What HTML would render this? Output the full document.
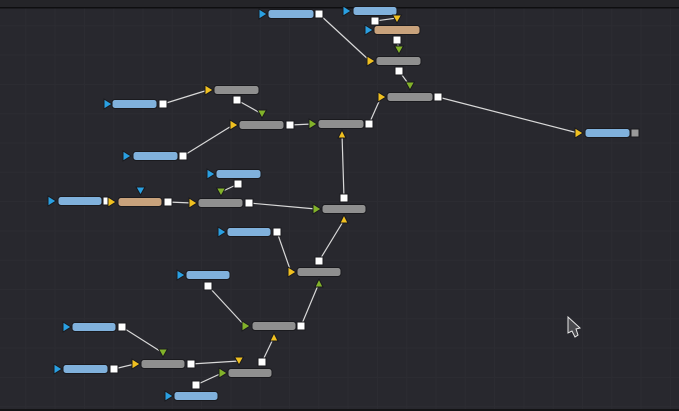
<!DOCTYPE html>
<html><head><meta charset="utf-8"><style>
html,body{margin:0;padding:0;background:#28282e;}
svg{display:block}
</style></head><body>
<svg width="679" height="411" viewBox="0 0 679 411" xmlns="http://www.w3.org/2000/svg">
<defs>
<pattern id="g" x="-4" y="-4" width="29.3" height="29.3" patternUnits="userSpaceOnUse">
<rect width="29.3" height="29.3" fill="#28282e"/>
<rect x="0" y="0" width="1" height="29.3" fill="#2c2c32"/>
<rect x="0" y="0" width="29.3" height="1" fill="#2c2c32"/>
</pattern>
</defs>
<rect width="679" height="411" fill="url(#g)"/>
<rect width="679" height="7" fill="#242428"/>
<rect y="7" width="679" height="1.5" fill="#0e0e10"/>
<rect y="409" width="679" height="2" fill="#141416"/>

<g stroke="#d8d8d8" stroke-width="1.2" fill="none">
<line x1="319" y1="14" x2="370" y2="61"/>
<line x1="375" y1="21" x2="397" y2="18"/>
<line x1="397" y1="40" x2="399" y2="50"/>
<line x1="399" y1="71" x2="410" y2="86"/>
<line x1="438" y1="97" x2="578" y2="133"/>
<line x1="163" y1="104" x2="208" y2="90"/>
<line x1="237" y1="100" x2="262" y2="114"/>
<line x1="290" y1="125" x2="312" y2="124"/>
<line x1="369" y1="124" x2="381" y2="97"/>
<line x1="183" y1="156" x2="233" y2="125"/>
<line x1="238" y1="184" x2="221" y2="192"/>
<line x1="168" y1="202" x2="192" y2="203"/>
<line x1="107" y1="201" x2="111" y2="202"/>
<line x1="249" y1="203" x2="316" y2="209"/>
<line x1="344" y1="198" x2="342" y2="134"/>
<line x1="277" y1="232" x2="291" y2="272"/>
<line x1="319" y1="261" x2="344" y2="220"/>
<line x1="208" y1="286" x2="245" y2="326"/>
<line x1="301" y1="326" x2="319" y2="283"/>
<line x1="122" y1="327" x2="163" y2="353"/>
<line x1="191" y1="364" x2="239" y2="361"/>
<line x1="262" y1="362" x2="274" y2="337"/>
<line x1="196" y1="385" x2="222" y2="373"/>
<line x1="114" y1="369" x2="135" y2="364"/>
</g>

<g stroke="#1a1a1e" stroke-width="1">
<rect x="268" y="9.5" width="46" height="9" rx="3" fill="#80b1dc"/>
<rect x="353" y="6.5" width="44" height="9" rx="3" fill="#80b1dc"/>
<rect x="374" y="25.5" width="46" height="9" rx="3" fill="#c8a27c"/>
<rect x="376" y="56.5" width="45" height="9" rx="3" fill="#8f8f8f"/>
<rect x="387" y="92.5" width="46" height="9" rx="3" fill="#8f8f8f"/>
<rect x="585" y="128.5" width="45" height="9" rx="3" fill="#80b1dc"/>
<rect x="214" y="85.5" width="45" height="9" rx="3" fill="#8f8f8f"/>
<rect x="112" y="99.5" width="45" height="9" rx="3" fill="#80b1dc"/>
<rect x="239" y="120.5" width="45" height="9" rx="3" fill="#8f8f8f"/>
<rect x="318" y="119.5" width="46" height="9" rx="3" fill="#8f8f8f"/>
<rect x="133" y="151.5" width="45" height="9" rx="3" fill="#80b1dc"/>
<rect x="216" y="169.5" width="45" height="9" rx="3" fill="#80b1dc"/>
<rect x="198" y="198.5" width="45" height="9" rx="3" fill="#8f8f8f"/>
<rect x="118" y="197.5" width="44" height="9" rx="3" fill="#c8a27c"/>
<rect x="58" y="196.5" width="44" height="9" rx="3" fill="#80b1dc"/>
<rect x="322" y="204.5" width="44" height="9" rx="3" fill="#8f8f8f"/>
<rect x="227" y="227.5" width="44" height="9" rx="3" fill="#80b1dc"/>
<rect x="297" y="267.5" width="44" height="9" rx="3" fill="#8f8f8f"/>
<rect x="186" y="270.5" width="44" height="9" rx="3" fill="#80b1dc"/>
<rect x="252" y="321.5" width="44" height="9" rx="3" fill="#8f8f8f"/>
<rect x="72" y="322.5" width="44" height="9" rx="3" fill="#80b1dc"/>
<rect x="141" y="359.5" width="44" height="9" rx="3" fill="#8f8f8f"/>
<rect x="228" y="368.5" width="44" height="9" rx="3" fill="#8f8f8f"/>
<rect x="63" y="364.5" width="45" height="9" rx="3" fill="#80b1dc"/>
<rect x="174" y="391.5" width="44" height="9" rx="3" fill="#80b1dc"/>

<g fill="#ffffff">
<rect x="315" y="10" width="8" height="8"/>
<rect x="371" y="17" width="8" height="8"/>
<rect x="393" y="36" width="8" height="8"/>
<rect x="395" y="67" width="8" height="8"/>
<rect x="434" y="93" width="8" height="8"/>
<rect x="233" y="96" width="8" height="8"/>
<rect x="159" y="100" width="8" height="8"/>
<rect x="286" y="121" width="8" height="8"/>
<rect x="365" y="120" width="8" height="8"/>
<rect x="179" y="152" width="8" height="8"/>
<rect x="234" y="180" width="8" height="8"/>
<rect x="245" y="199" width="8" height="8"/>
<rect x="164" y="198" width="8" height="8"/>
<rect x="103" y="197" width="6" height="8"/>
<rect x="340" y="194" width="8" height="8"/>
<rect x="273" y="228" width="8" height="8"/>
<rect x="315" y="257" width="8" height="8"/>
<rect x="204" y="282" width="8" height="8"/>
<rect x="297" y="322" width="8" height="8"/>
<rect x="118" y="323" width="8" height="8"/>
<rect x="187" y="360" width="8" height="8"/>
<rect x="258" y="358" width="8" height="8"/>
<rect x="110" y="365" width="8" height="8"/>
<rect x="192" y="381" width="8" height="8"/>
</g>
<rect x="631" y="129" width="8" height="8" fill="#9a9a9a"/>

<g fill="#2aa0e2">
<polygon points="259,9 267,14 259,19"/>
<polygon points="343,6 351,11 343,16"/>
<polygon points="365,25 373,30 365,35"/>
<polygon points="104,99 112,104 104,109"/>
<polygon points="123,151 131,156 123,161"/>
<polygon points="207,169 215,174 207,179"/>
<polygon points="48,196 56,201 48,206"/>
<polygon points="218,227 226,232 218,237"/>
<polygon points="177,270 185,275 177,280"/>
<polygon points="63,322 71,327 63,332"/>
<polygon points="54,364 62,369 54,374"/>
<polygon points="165,391 173,396 165,401"/>
<polygon points="136,187 145,187 140.5,195"/>
</g>
<g fill="#f0c020">
<polygon points="367,56 375,61 367,66"/>
<polygon points="378,92 386,97 378,102"/>
<polygon points="575,128 583,133 575,138"/>
<polygon points="205,85 213,90 205,95"/>
<polygon points="230,120 238,125 230,130"/>
<polygon points="189,198 197,203 189,208"/>
<polygon points="108,197 116,202 108,207"/>
<polygon points="288,267 296,272 288,277"/>
<polygon points="132,359 140,364 132,369"/>
<polygon points="392.5,15 401.5,15 397,23"/>
<polygon points="234.5,357 243.5,357 239,365"/>
<polygon points="338,138 346,138 342,130"/>
<polygon points="340,223 348,223 344,215"/>
<polygon points="270,341 278,341 274,333"/>
</g>
<g fill="#82b22a">
<polygon points="394.5,46 403.5,46 399,54"/>
<polygon points="405.5,82 414.5,82 410,90"/>
<polygon points="257.5,110 266.5,110 262,118"/>
<polygon points="216.5,188 225.5,188 221,196"/>
<polygon points="158.5,349 167.5,349 163,357"/>
<polygon points="309,119 317,124 309,129"/>
<polygon points="313,204 321,209 313,214"/>
<polygon points="242,321 250,326 242,331"/>
<polygon points="219,368 227,373 219,378"/>
<polygon points="315,287 323,287 319,279"/>
</g>
</g>

<polygon points="568,317 568,333 572,331 575,337 578,335 576,329 580,328" fill="#4a4a4e" stroke="#e8e8e8" stroke-width="1"/>
</svg>
</body></html>
